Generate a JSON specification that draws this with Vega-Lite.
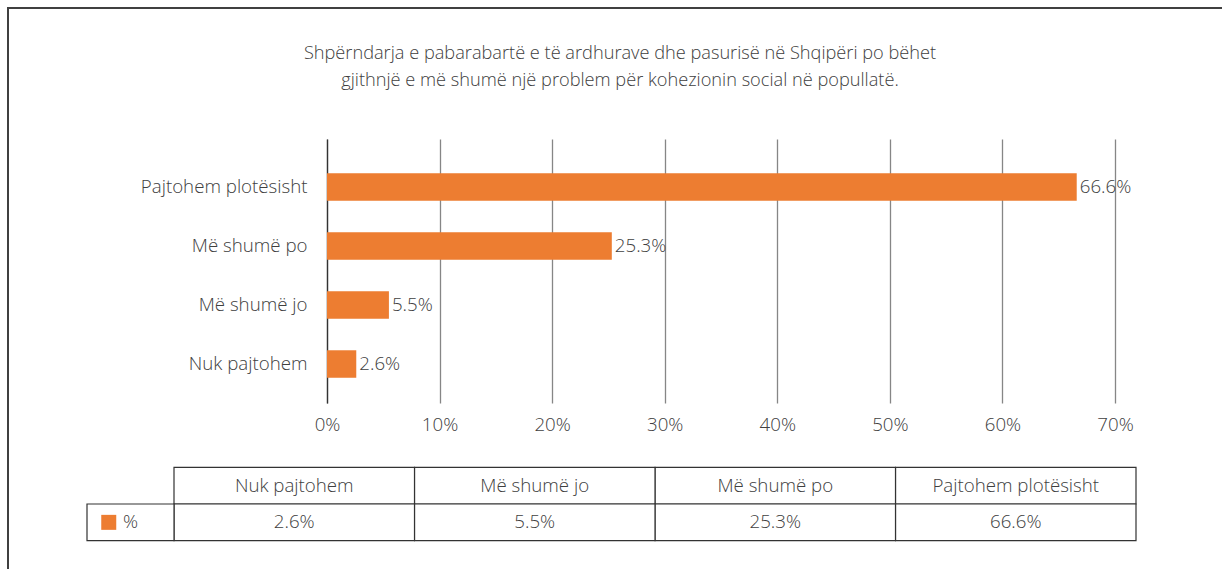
{
  "$schema": "https://vega.github.io/schema/vega-lite/v6.json",
  "width": 1230,
  "height": 580,
  "autosize": {"type": "none"},
  "padding": {"left": 8, "top": 8, "right": 0, "bottom": 0},
  "background": "white",
  "config": {
    "view": {"stroke": "#404040", "strokeWidth": 2},
    "font": "Open Sans",
    "axis": {"labelFont": "Open Sans", "labelColor": "#404040", "labelFontSize": 18.7, "labelFontWeight": 300, "title": null}
  },
  "title": {
    "text": ["Shpërndarja e pabarabartë e të ardhurave dhe pasurisë në Shqipëri po bëhet", "gjithnjë e më shumë një problem për kohezionin social në popullatë."],
    "anchor": "middle",
    "frame": "group",
    "fontSize": 18.2,
    "fontWeight": 300,
    "color": "#404040",
    "lineHeight": 26.5,
    "offset": -82,
    "dx": -3
  },
  "datasets": {
    "answers": [
      {"cat": "Pajtohem plotësisht", "pct": 0.666},
      {"cat": "Më shumë po", "pct": 0.253},
      {"cat": "Më shumë jo", "pct": 0.055},
      {"cat": "Nuk pajtohem", "pct": 0.026}
    ],
    "legend": [{"key": "%"}]
  },
  "layer": [
    {
      "data": {"name": "answers"},
      "encoding": {
        "y": {
          "field": "cat", "type": "nominal",
          "scale": {"domain": ["Pajtohem plotësisht", "Më shumë po", "Më shumë jo", "Nuk pajtohem"], "range": [131, 395], "paddingInner": 0.534, "paddingOuter": 0.5045, "align": 0.576},
          "axis": {"offset": -319, "labelPadding": 20, "ticks": false, "domain": true, "domainColor": "#333333", "domainWidth": 1.3, "grid": false}
        },
        "x": {
          "field": "pct", "type": "quantitative",
          "scale": {"domain": [0, 0.7], "range": [319, 1107], "nice": false},
          "axis": {"orient": "top", "format": ".0%", "values": [0, 0.1, 0.2, 0.3, 0.4, 0.5, 0.6, 0.7], "offset": -416, "grid": true, "gridColor": "#868686", "gridWidth": 1.3, "domain": false, "ticks": false, "labelPadding": 0, "labelBaseline": "middle", "labelFlush": false}
        }
      },
      "layer": [
        {"mark": {"type": "bar", "color": "#ED7D31"}},
        {"mark": {"type": "text", "align": "left", "baseline": "middle", "dx": 3, "fontSize": 18.7, "fontWeight": 300, "color": "#404040"},
         "encoding": {"text": {"field": "pct", "type": "quantitative", "format": ".1%"}}}
      ]
    },
    {
      "data": {"name": "answers"},
      "encoding": {
        "x": {
          "field": "cat", "type": "nominal",
          "scale": {"domain": ["Nuk pajtohem", "Më shumë jo", "Më shumë po", "Pajtohem plotësisht"], "range": [166, 1128], "paddingInner": 0, "paddingOuter": 0},
          "axis": null
        }
      },
      "layer": [
        {"mark": {"type": "rect", "fill": "white", "stroke": "#333333", "strokeWidth": 1.2},
         "encoding": {"y": {"datum": "header", "type": "nominal", "scale": {"domain": ["header", "value"], "range": [459.3, 532.7], "paddingInner": 0, "paddingOuter": 0}, "axis": null}}},
        {"mark": {"type": "rect", "fill": "white", "stroke": "#333333", "strokeWidth": 1.2},
         "encoding": {"y": {"datum": "value", "type": "nominal"}}},
        {"mark": {"type": "text", "fontSize": 18.7, "fontWeight": 300, "color": "#404040", "baseline": "middle"},
         "encoding": {"y": {"datum": "header", "type": "nominal"}, "text": {"field": "cat", "type": "nominal"}}},
        {"mark": {"type": "text", "fontSize": 18.7, "fontWeight": 300, "color": "#404040", "baseline": "middle"},
         "encoding": {"y": {"datum": "value", "type": "nominal"}, "text": {"field": "pct", "type": "quantitative", "format": ".1%"}}}
      ]
    },
    {
      "data": {"name": "legend"},
      "encoding": {
        "y": {"datum": "value", "type": "nominal", "scale": {"domain": ["header", "value"], "range": [459.3, 532.7], "paddingInner": 0, "paddingOuter": 0}, "axis": null}
      },
      "layer": [
        {"mark": {"type": "rect", "fill": "white", "stroke": "#333333", "strokeWidth": 1.2},
         "encoding": {"x": {"field": "key", "type": "nominal", "scale": {"domain": ["%"], "range": [79, 166], "paddingInner": 0, "paddingOuter": 0}, "axis": null}}},
        {"mark": {"type": "point", "shape": "square", "filled": true, "size": 225, "color": "#ED7D31", "opacity": 1},
         "encoding": {"x": {"field": "key", "type": "nominal", "bandPosition": 0.25}}},
        {"mark": {"type": "text", "align": "left", "baseline": "middle", "fontSize": 18.7, "fontWeight": 300, "color": "#404040"},
         "encoding": {"x": {"field": "key", "type": "nominal", "bandPosition": 0.414}, "text": {"field": "key", "type": "nominal"}}}
      ]
    }
  ],
  "resolve": {"scale": {"x": "independent", "y": "independent"}}
}
